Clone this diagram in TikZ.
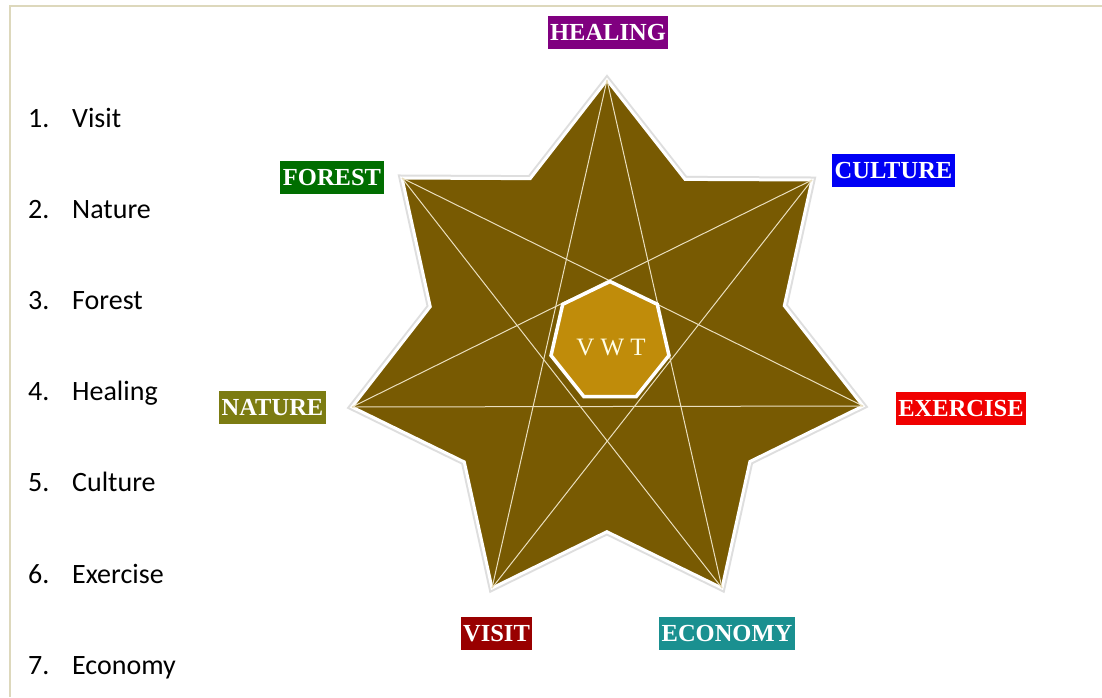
\documentclass[tikz,border=0pt]{standalone}
\usepackage{fontspec}
\setmainfont{Liberation Serif}
\newfontfamily\listfont{Carlito}
\usetikzlibrary{shapes.geometric,calc}
\definecolor{framecol}{HTML}{DDD8BC}
\definecolor{starfill}{HTML}{785A02}
\definecolor{linecol}{HTML}{EADFBE}
\definecolor{heptfill}{HTML}{C08C0A}
\definecolor{healcol}{HTML}{800080}
\definecolor{forestcol}{HTML}{006E00}
\definecolor{culturecol}{HTML}{0000F5}
\definecolor{naturecol}{HTML}{7C7C12}
\definecolor{exercisecol}{HTML}{F00000}
\definecolor{visitcol}{HTML}{990000}
\definecolor{economycol}{HTML}{1A9090}
\begin{document}
\begin{tikzpicture}[x=1pt,y=-1pt,
  tag/.style={fill=#1, text=white, font=\bfseries\fontsize{24.5}{24.5}\selectfont,
    inner xsep=2.5pt, inner ysep=0pt, minimum height=33pt, text height=16pt, text depth=0pt},
  item/.style={anchor=base west, font=\listfont\fontsize{28}{28}\selectfont, inner sep=0pt},
  innerline/.style={draw=linecol, line width=1pt},
  starshape/.style={fill=starfill, draw=white, line width=3pt, line join=miter},
  heptshape/.style={regular polygon, regular polygon sides=7, minimum size=121pt,
    fill=heptfill, draw=white, line width=3.5pt, inner sep=0pt}
]
\useasboundingbox (0,0) rectangle (1102,697);
\fill[white] (0,0) rectangle (1102,697);
% frame
\draw[framecol, line width=2pt] (1102,6) -- (10,6) -- (10,697);

% outer vertices
\coordinate (o0) at (607,80);
\coordinate (o1) at (812,180);
\coordinate (o2) at (863,406);
\coordinate (o3) at (722,588);
\coordinate (o4) at (492,588);
\coordinate (o5) at (352,407);
\coordinate (o6) at (402,178);
% inner vertices
\coordinate (i0) at (intersection of o0--o2 and o1--o6);
\coordinate (i1) at (intersection of o1--o3 and o2--o0);
\coordinate (i2) at (intersection of o2--o4 and o3--o1);
\coordinate (i3) at (intersection of o3--o5 and o4--o2);
\coordinate (i4) at (intersection of o4--o6 and o5--o3);
\coordinate (i5) at (intersection of o5--o0 and o6--o4);
\coordinate (i6) at (intersection of o6--o1 and o0--o5);

% shadow
\draw[black!25, line width=7pt, line join=miter, opacity=0.5]
  (o0) -- (i0) -- (o1) -- (i1) -- (o2) -- (i2) -- (o3) -- (i3) -- (o4) -- (i4) -- (o5) -- (i5) -- (o6) -- (i6) -- cycle;
% star
\path[starshape]
  (o0) -- (i0) -- (o1) -- (i1) -- (o2) -- (i2) -- (o3) -- (i3) -- (o4) -- (i4) -- (o5) -- (i5) -- (o6) -- (i6) -- cycle;
% inner {7/3} lines
\draw[innerline] (o0) -- (o3);
\draw[innerline] (o3) -- (o6);
\draw[innerline] (o6) -- (o2);
\draw[innerline] (o2) -- (o5);
\draw[innerline] (o5) -- (o1);
\draw[innerline] (o1) -- (o4);
\draw[innerline] (o4) -- (o0);

% centre heptagon
\node[heptshape] (vwt) at (610,342) {};
\node[font=\fontsize{25}{25}\selectfont, text=white!90!yellow, inner sep=0pt] (vwtlabel) at (611,347) {V W T};

% labels
\node[tag=healcol] (healing) at (608,32.5) {HEALING};
\node[tag=forestcol] (forest) at (332,177.5) {FOREST};
\node[tag=culturecol] (culture) at (893.5,170.5) {CULTURE};
\node[tag=naturecol] (nature) at (272.5,407) {NATURE};
\node[tag=exercisecol] (exercise) at (961,408.5) {EXERCISE};
\node[tag=visitcol] (visit) at (496.5,633.5) {VISIT};
\node[tag=economycol] (economy) at (727,633.5) {ECONOMY};

% list
\node[item] (l1) at (28,127) {\makebox[44pt][l]{1.}Visit};
\node[item] (l2) at (28,218) {\makebox[44pt][l]{2.}Nature};
\node[item] (l3) at (28,309) {\makebox[44pt][l]{3.}Forest};
\node[item] (l4) at (28,400) {\makebox[44pt][l]{4.}Healing};
\node[item] (l5) at (28,491) {\makebox[44pt][l]{5.}Culture};
\node[item] (l6) at (28,583) {\makebox[44pt][l]{6.}Exercise};
\node[item] (l7) at (28,674) {\makebox[44pt][l]{7.}Economy};
\end{tikzpicture}
\end{document}
